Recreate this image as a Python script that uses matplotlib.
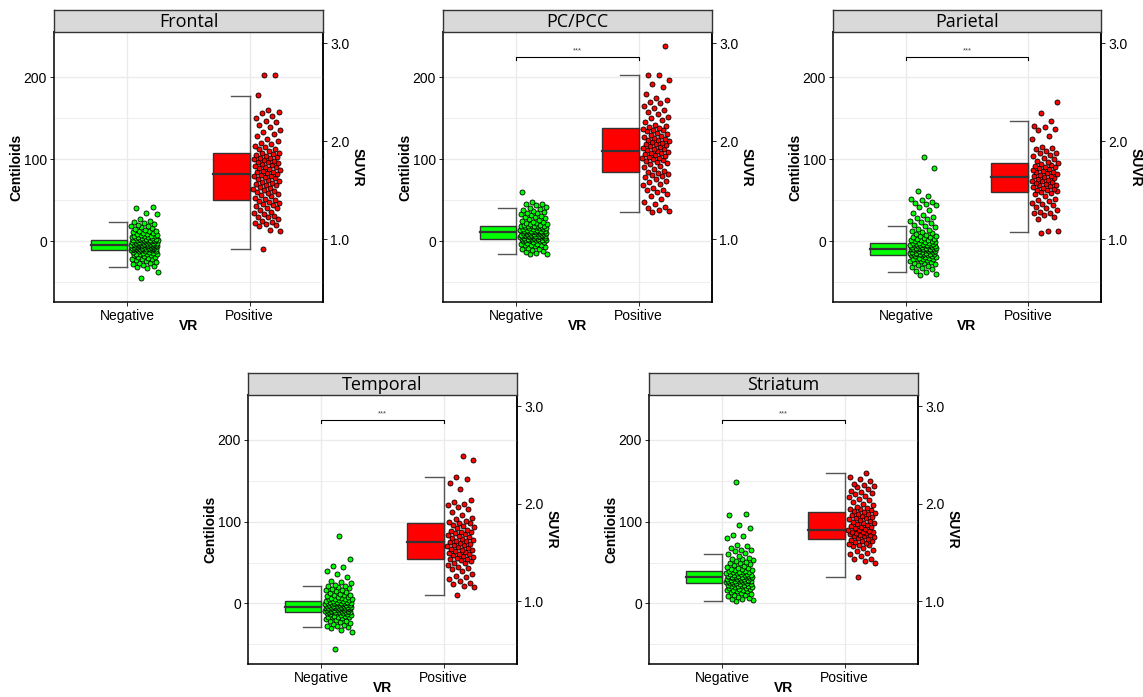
import numpy as np
import matplotlib
matplotlib.use('Agg')
import matplotlib.pyplot as plt
from matplotlib.patches import Rectangle
from matplotlib.ticker import FixedLocator

plt.rcParams['font.family'] = ['Liberation Sans', 'DejaVu Sans']

# ── Data (Centiloids) ─────────────────────────────────────────────────────────

panels     = ['Frontal', 'PC/PCC', 'Parietal', 'Temporal', 'Striatum']
categories = ['Negative', 'Positive']
show_sig   = [False, True, True, True, True]

fr_neg = [-45, -38, -33, -31, -30, -29, -28, -27, -26, -25, -24, -23, -22, -21, -21, -20, -19, -19,
          -18, -17, -17, -16, -16, -15, -15, -14, -14, -13, -13, -12, -12, -12, -11, -11, -11, -11,
          -10, -10, -10, -10, -9, -9, -9, -9, -9, -8, -8, -8, -8, -8, -7, -7, -7, -7, -7, -6, -6,
          -6, -6, -6, -5, -5, -5, -5, -5, -5, -4, -4, -4, -4, -4, -3, -3, -3, -3, -3, -2, -2, -2,
          -2, -2, -1, -1, -1, -1, 0, 0, 0, 0, 1, 1, 1, 1, 2, 2, 2, 2, 3, 3, 3, 4, 4, 4, 5, 5, 5,
          6, 6, 7, 7, 8, 8, 9, 9, 10, 10, 11, 12, 12, 13, 14, 15, 16, 17, 18, 19, 20, 21, 22, 23,
          25, 27, 33, 35, 40, 42]
fr_pos = [-10, 12, 14, 18, 20, 21, 22, 24, 25, 27, 29, 30, 31, 33, 35, 36, 38, 40, 41, 43, 44, 46,
          47, 48, 49, 50, 51, 53, 55, 56, 58, 59, 60, 61, 62, 64, 65, 66, 68, 69, 70, 71, 72, 74,
          75, 76, 77, 78, 79, 80, 81, 82, 83, 84, 85, 86, 87, 88, 89, 90, 91, 92, 93, 94, 95, 96,
          97, 98, 99, 100, 101, 102, 103, 104, 105, 106, 107, 108, 110, 112, 113, 115, 116, 118,
          120, 122, 125, 128, 131, 133, 136, 139, 142, 145, 147, 150, 153, 156, 158, 160, 178,
          202, 203]

pcc_neg = [-16, -15, -14, -13, -12, -11, -10, -9, -8, -7, -6, -5, -5, -4, -3, -3, -2, -1, -1, 0, 0,
           1, 1, 2, 2, 2, 3, 3, 3, 3, 4, 4, 4, 5, 5, 5, 5, 6, 6, 6, 6, 7, 7, 7, 7, 8, 8, 8, 8, 9,
           9, 9, 9, 10, 10, 10, 10, 11, 11, 11, 11, 12, 12, 12, 12, 13, 13, 13, 13, 14, 14, 14, 15,
           15, 15, 16, 16, 16, 17, 17, 17, 18, 18, 18, 19, 19, 19, 20, 20, 21, 21, 22, 22, 23, 24,
           25, 26, 27, 28, 29, 30, 31, 32, 33, 34, 35, 36, 37, 38, 39, 40, 42, 44, 45, 46, 48, 60]
pcc_pos = [36, 37, 38, 40, 42, 45, 48, 52, 55, 57, 60, 62, 63, 65, 68, 70, 72, 74, 76, 78, 80, 81,
           82, 83, 84, 86, 88, 90, 92, 94, 95, 96, 98, 99, 100, 101, 102, 103, 104, 105, 106, 107,
           108, 109, 110, 111, 112, 113, 114, 115, 116, 117, 118, 119, 120, 121, 122, 123, 124,
           125, 126, 127, 128, 130, 131, 132, 134, 135, 136, 137, 138, 139, 140, 142, 145, 148,
           150, 152, 155, 158, 160, 163, 165, 168, 170, 172, 175, 180, 188, 192, 196, 202, 203, 238]

par_neg = [-41, -40, -38, -36, -34, -32, -31, -30, -29, -28, -27, -26, -25, -24, -24, -23, -22, -22,
           -21, -21, -20, -20, -19, -19, -18, -18, -17, -17, -17, -16, -16, -16, -15, -15, -15, -14,
           -14, -14, -13, -13, -13, -12, -12, -12, -11, -11, -11, -10, -10, -10, -10, -9, -9, -9,
           -9, -8, -8, -8, -8, -7, -7, -7, -6, -6, -6, -5, -5, -5, -4, -4, -4, -3, -3, -3, -2, -2,
           -2, -1, -1, 0, 0, 1, 1, 2, 3, 3, 4, 5, 5, 6, 7, 8, 9, 10, 11, 12, 14, 15, 17, 18, 20,
           22, 24, 25, 27, 28, 30, 32, 35, 38, 42, 44, 45, 47, 48, 50, 52, 55, 61, 89, 103]
par_pos = [10, 12, 13, 27, 29, 32, 34, 35, 36, 38, 40, 42, 44, 45, 47, 49, 50, 52, 55, 57, 59, 60,
           61, 62, 63, 64, 65, 66, 67, 68, 69, 70, 71, 72, 73, 74, 75, 76, 77, 78, 79, 80, 81, 82,
           83, 84, 85, 86, 87, 88, 89, 90, 91, 92, 93, 94, 95, 96, 98, 100, 102, 104, 105, 107,
           108, 110, 112, 114, 115, 125, 128, 135, 137, 139, 140, 146, 156, 170]

tmp_neg = [-56, -35, -33, -30, -29, -28, -27, -26, -25, -24, -23, -22, -21, -20, -19, -18, -17, -17,
           -16, -16, -15, -15, -14, -14, -13, -13, -12, -12, -12, -11, -11, -11, -10, -10, -10, -9,
           -9, -9, -9, -8, -8, -8, -8, -7, -7, -7, -7, -6, -6, -6, -6, -5, -5, -5, -5, -4, -4, -4,
           -4, -4, -3, -3, -3, -3, -2, -2, -2, -2, -1, -1, -1, -1, 0, 0, 0, 0, 1, 1, 1, 2, 2, 2,
           3, 3, 3, 4, 4, 5, 5, 6, 6, 7, 7, 8, 8, 9, 10, 10, 11, 12, 13, 14, 15, 16, 17, 18, 19,
           20, 21, 22, 23, 25, 26, 28, 32, 36, 40, 45, 46, 55, 82]
tmp_pos = [11, 20, 22, 24, 25, 28, 30, 32, 34, 36, 40, 42, 44, 45, 47, 49, 50, 52, 53, 54, 55, 56,
           57, 58, 59, 60, 61, 62, 63, 64, 65, 66, 67, 68, 69, 70, 71, 72, 73, 74, 75, 76, 77, 78,
           79, 80, 81, 82, 84, 85, 86, 87, 88, 89, 90, 92, 94, 95, 96, 98, 99, 100, 101, 103, 105,
           108, 112, 115, 118, 120, 122, 124, 126, 140, 147, 152, 155, 175, 181]

str_neg = [3, 4, 5, 6, 7, 8, 9, 10, 11, 12, 13, 14, 15, 15, 16, 17, 17, 18, 18, 19, 19, 20, 20, 21,
           21, 22, 22, 23, 23, 24, 24, 24, 25, 25, 25, 26, 26, 26, 27, 27, 27, 28, 28, 28, 29, 29,
           29, 30, 30, 30, 31, 31, 31, 32, 32, 32, 33, 33, 33, 34, 34, 34, 35, 35, 35, 36, 36, 36,
           37, 37, 38, 38, 39, 39, 40, 40, 41, 41, 42, 42, 43, 44, 45, 46, 47, 48, 49, 50, 51, 52,
           53, 54, 55, 56, 58, 60, 62, 64, 65, 66, 68, 70, 71, 80, 82, 84, 92, 96, 108, 110, 148]
str_pos = [32, 49, 52, 54, 55, 58, 60, 62, 64, 66, 68, 70, 71, 72, 73, 74, 75, 76, 77, 78, 79, 80,
           81, 82, 83, 84, 84, 85, 86, 86, 87, 88, 88, 89, 90, 90, 91, 92, 93, 94, 95, 96, 97, 98,
           99, 100, 101, 102, 103, 104, 105, 106, 107, 108, 109, 110, 111, 112, 113, 114, 115, 116,
           117, 118, 120, 122, 124, 126, 128, 130, 132, 134, 135, 136, 138, 140, 142, 144, 145,
           146, 150, 152, 155, 160]

points = [(fr_neg, fr_pos), (pcc_neg, pcc_pos), (par_neg, par_pos),
          (tmp_neg, tmp_pos), (str_neg, str_pos)]

# box stats: (whisker low, q1, median, q3, whisker high)
box_neg = [(-31, -11, -5, 2, 23), (-15, 3, 11, 19, 40), (-38, -17, -9, -2, 18),
           (-29, -11, -4, 3, 22), (3, 25, 32, 40, 61)]
box_pos = [(-10, 50, 82, 108, 177), (36, 84, 110, 138, 203), (11, 60, 78, 95, 146),
           (11, 55, 75, 99, 155), (32, 79, 90, 112, 159)]

sig_label = '***'
sig_y     = 224

# Centiloid <-> SUVR for the secondary axis
def cl2suvr(c): return (np.asarray(c) + 117.0) / 119.5
def suvr2cl(s): return np.asarray(s) * 119.5 - 117.0

# ── Layout ────────────────────────────────────────────────────────────────────

W, H = 1143, 697
boxes_px = [(54, 32, 269, 270), (443, 32, 269, 270), (833, 32, 268, 270),
            (248, 395, 269, 269), (649, 395, 269, 269)]
STRIP_PX = 22

FILL  = ['#00FF00', '#FF0000']
GRIDC = '#EBEBEB'


def jitter(n, centre):
    k = np.arange(n)
    return centre + 0.14 + 0.11 * (2 * ((k * 0.6180339887 + 0.37) % 1.0) - 1)


def draw_panel(fig, idx):
    x0, y0, w, h = boxes_px[idx]
    ax = fig.add_axes([x0 / W, 1 - (y0 + h) / H, w / W, h / H])
    st = fig.add_axes([x0 / W, 1 - y0 / H, w / W, STRIP_PX / H])

    st.set_facecolor('#D9D9D9')
    st.set_xticks([]); st.set_yticks([])
    for s in st.spines.values():
        s.set_color('#333333'); s.set_linewidth(1.0)
    st.text(0.5, 0.45, panels[idx], ha='center', va='center', fontsize=13,
            family=['Open Sans', 'DejaVu Sans'], transform=st.transAxes)

    ax.set_xlim(0.4, 2.6)
    ax.set_ylim(-74, 255)
    ax.set_axisbelow(True)
    ax.yaxis.set_major_locator(FixedLocator([0, 100, 200]))
    ax.yaxis.set_minor_locator(FixedLocator([-50, 50, 150]))
    ax.set_xticks([1, 2]); ax.set_xticklabels(categories)
    ax.grid(True, which='major', color=GRIDC, lw=1.0)
    ax.grid(True, which='minor', axis='y', color=GRIDC, lw=0.6)
    ax.tick_params(which='minor', length=0)
    ax.tick_params(which='major', length=3, width=0.6, pad=2, labelsize=10, colors='black')
    for side in ['left', 'bottom', 'right', 'top']:
        ax.spines[side].set_color('black'); ax.spines[side].set_linewidth(1.1)

    for j, (stats, vals) in enumerate(zip([box_neg[idx], box_pos[idx]], points[idx])):
        c = j + 1
        wlo, q1, med, q3, whi = stats
        ax.add_patch(Rectangle((c - 0.3, q1), 0.3, q3 - q1, facecolor=FILL[j],
                               edgecolor='#333333', lw=1.0, zorder=3))
        ax.plot([c - 0.3, c], [med, med], color='#333333', lw=1.6, zorder=4)
        ax.plot([c, c], [wlo, whi], color='#555555', lw=1.0, zorder=2)
        ax.plot([c - 0.15, c], [whi, whi], color='#555555', lw=1.0, zorder=2)
        ax.plot([c - 0.15, c], [wlo, wlo], color='#555555', lw=1.0, zorder=2)
        ax.scatter(jitter(len(vals), c), vals, s=13, c=FILL[j], edgecolors='black',
                   linewidths=0.6, zorder=5)

    if show_sig[idx]:
        ax.plot([1, 1, 2, 2], [sig_y - 3, sig_y, sig_y, sig_y - 3], color='black', lw=0.8)
        ax.text(1.5, sig_y + 4, sig_label, ha='center', va='bottom', fontsize=5.5, color='#444444')

    ax.set_ylabel('Centiloids', fontsize=10, fontweight='bold')
    ax.yaxis.set_label_coords(-31 / w, 0.5)
    ax.set_xlabel('VR', fontsize=10, fontweight='bold')
    ax.xaxis.set_label_coords(0.5, -17 / h)

    sec = ax.secondary_yaxis('right', functions=(cl2suvr, suvr2cl))
    sec.set_yticks([1.0, 2.0, 3.0]); sec.set_yticklabels(['1.0', '2.0', '3.0'])
    sec.tick_params(length=3, width=0.6, pad=2, labelsize=10)
    sec.spines['right'].set_linewidth(1.1)
    sec.set_ylabel('SUVR', fontsize=10, fontweight='bold', rotation=270, va='center')
    sec.yaxis.set_label_coords(1 + 35 / w, 0.5, transform=ax.transAxes)


fig = plt.figure(figsize=(W / 100, H / 100), dpi=100)
for i in range(len(panels)):
    draw_panel(fig, i)
fig.savefig('out.png', dpi=100)
